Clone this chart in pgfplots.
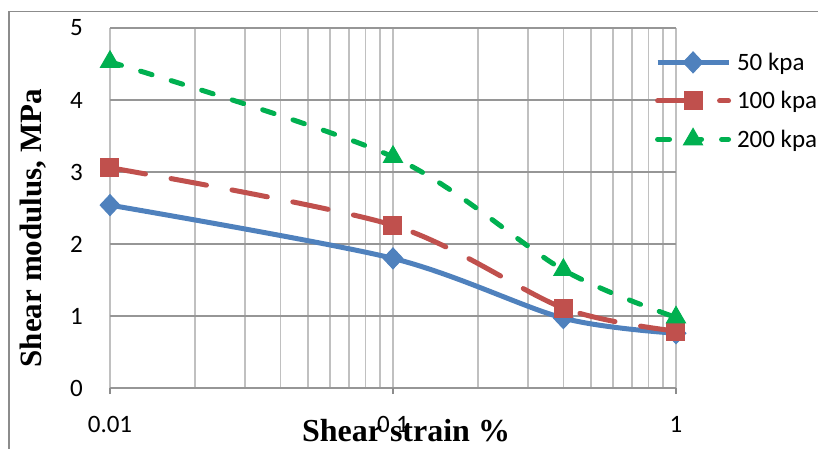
\documentclass[border=0pt]{standalone}
\usepackage{pgfplots}
\pgfplotsset{compat=1.18}
\usepackage{fontspec}
\setmainfont{Carlito}
\newfontfamily\tnr{Liberation Serif}
\definecolor{cblue}{HTML}{4F81BD}
\definecolor{cred}{HTML}{C0504D}
\definecolor{cgreen}{HTML}{00B050}
\definecolor{hgrid}{HTML}{969696}
\definecolor{vgrid}{HTML}{C0C0C0}
\definecolor{framec}{HTML}{8C8C8C}
\begin{document}
\begin{tikzpicture}
\path[use as bounding box] (-110pt,-61pt) rectangle (708pt,388pt);
\draw[framec, line width=1.5pt] (-101pt,-70pt) -- (-101pt,376.5pt) -- (720pt,376.5pt);
\begin{axis}[
  at={(0pt,0pt)}, anchor=south west,
  scale only axis, width=566pt, height=360pt,
  xmode=log, xmin=0.01, xmax=1, ymin=0, ymax=5,
  clip=false,
  xtick={0.01,0.1,1}, xticklabels={0.01,0.1,1},
  minor xtick={0.02,0.03,0.04,0.05,0.06,0.07,0.08,0.09,0.2,0.3,0.4,0.5,0.6,0.7,0.8,0.9},
  ytick={0,1,2,3,4,5},
  axis line style={draw=none},
  xmajorgrids, xminorgrids, ymajorgrids,
  major x grid style={vgrid, line width=1.5pt},
  minor x grid style={vgrid, line width=1.5pt},
  major y grid style={hgrid, line width=1.5pt},
  xtick pos=left, ytick pos=left,
  xtick align=outside,
  major tick length=6pt, minor tick length=0pt,
  x tick style={framec, line width=1.5pt},
  y tick style={draw=none},
  /pgf/number format/assume math mode=true,
  tick label style={font=\fontsize{25}{30}\selectfont},
  xticklabel style={anchor=base, yshift=-38pt, inner sep=0pt},
  yticklabel style={anchor=east, inner sep=0pt, xshift=-27pt},
  xlabel={\tnr\bfseries Shear strain \%},
  xlabel style={font=\fontsize{32}{38}\selectfont, at={(axis description cs:0.523,-0.15)}, anchor=base},
  ylabel={\tnr\bfseries Shear modulus, MPa},
  ylabel style={font=\fontsize{31}{37}\selectfont, at={(axis description cs:-0.136,0.444)}, anchor=center, rotate=0},
  legend style={at={(axis description cs:0.963,0.958)}, anchor=north west,
    draw=none, fill=none, inner sep=0pt, outer sep=0pt, row sep=0pt,
    font=\fontsize{25}{30}\selectfont,
    nodes={inner sep=0pt, minimum height=38.5pt},
    /tikz/every odd column/.append style={column sep=6pt}},
  legend cell align=left,
  legend image code/.code={\draw[mark repeat=2,mark phase=2,#1] plot coordinates {(0pt,0pt) (35.5pt,0pt) (71pt,0pt)};},
]
\addplot[cblue, line width=5pt, smooth, mark=diamond*, mark size=10.5pt,
  mark options={solid, xscale=1.25, line width=1pt, fill=cblue}]
  coordinates {(0.01,2.54) (0.1,1.80) (0.4,0.97) (1,0.76)};
\addlegendentry{50 kpa}
\addplot[cred, line width=5pt, smooth, line cap=round, dash pattern=on 36pt off 26pt,
  mark=square*, mark size=9pt, mark options={solid, line width=1pt, fill=cred}]
  coordinates {(0.01,3.06) (0.1,2.26) (0.4,1.11) (1,0.79)};
\addlegendentry{100 kpa}
\addplot[cgreen, line width=5pt, smooth, line cap=round, dash pattern=on 12pt off 20pt,
  mark=triangle*, mark size=11pt, mark options={solid, line width=1pt, fill=cgreen}]
  coordinates {(0.01,4.53) (0.1,3.21) (0.4,1.64) (1,0.98)};
\addlegendentry{200 kpa}
\end{axis}
\end{tikzpicture}
\end{document}
